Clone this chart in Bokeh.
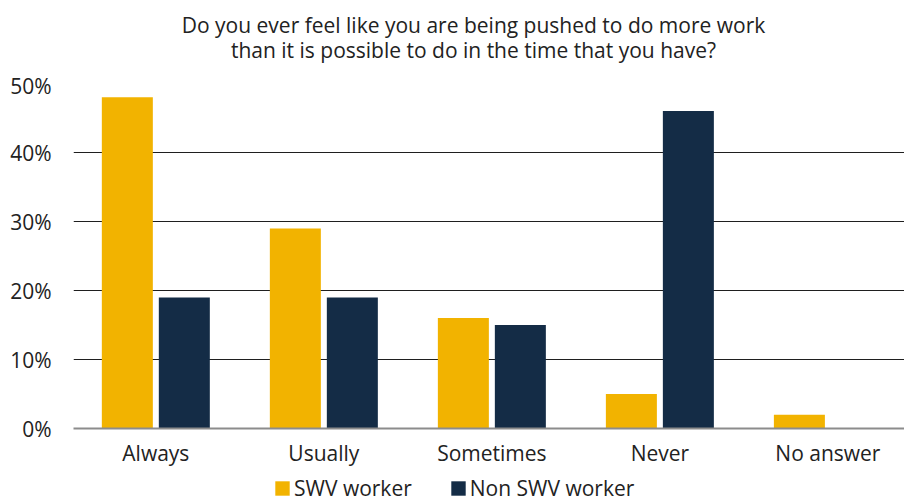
import numpy as np
from bokeh.plotting import figure
from bokeh.layouts import column
from bokeh.core.properties import value
from bokeh.models import (Range1d, FixedTicker, PrintfTickFormatter, Legend,
                          LegendItem, ColumnDataSource)
from bokeh.embed import file_html
from bokeh.resources import INLINE

categories = ["Always", "Usually", "Sometimes", "Never", "No answer"]
swv = [48, 29, 16, 5, 2]
non_swv = [19, 19, 15, 46, 0]
series_names = ["SWV worker", "Non SWV worker"]
colors = ["#F2B300", "#142C46"]
y_ticks = [0, 10, 20, 30, 40, 50]
title_lines = ["Do you ever feel like you are being pushed to do more work",
               "than it is possible to do in the time that you have?"]

FONT = "Open Sans"
TXT = "#222222"
W = 904
LEFT = 73

# ---- title strip (pixel coordinates, y downward) ----
TH = 71
t = figure(width=W, height=TH, output_backend="svg", toolbar_location=None,
           x_range=Range1d(LEFT, W), y_range=Range1d(TH, 0), min_border=0,
           min_border_left=LEFT, x_axis_location=None, y_axis_location=None)
t.grid.visible = False
t.outline_line_color = None
t.text(x=[473, 473], y=[24.5, 49.5], text=title_lines, text_align="center",
       text_baseline="alphabetic", text_font=value(FONT),
       text_font_size="21px", text_color=TXT)

# ---- main chart ----
idx = np.arange(len(categories)) + 0.5
bar_w = 0.3036
off = 0.1696

src = ColumnDataSource(dict(
    x_swv=idx - off, x_non=idx + off, swv=swv, non=non_swv, cat=categories))

p = figure(width=W, height=401, output_backend="svg", toolbar_location=None,
           x_range=Range1d(0.01, 4.956), y_range=Range1d(0, 50),
           min_border_left=LEFT, min_border_right=0, min_border_top=12,
           min_border_bottom=44)

r1 = p.vbar(x="x_swv", top="swv", width=bar_w, bottom=0, source=src,
            fill_color=colors[0], line_color=None)
r2 = p.vbar(x="x_non", top="non", width=bar_w, bottom=0, source=src,
            fill_color=colors[1], line_color=None)

p.outline_line_color = None
p.xgrid.grid_line_color = None
p.ygrid.grid_line_color = "#1f1f1f"
p.ygrid.grid_line_width = 1
p.ygrid.ticker = FixedTicker(ticks=y_ticks)

p.yaxis.ticker = FixedTicker(ticks=y_ticks)
p.yaxis.formatter = PrintfTickFormatter(format="%d%%")
p.yaxis.axis_line_color = None
p.yaxis.major_tick_line_color = None
p.yaxis.minor_tick_line_color = None
p.yaxis.major_label_standoff = 16
p.yaxis.major_label_text_font = FONT
p.yaxis.major_label_text_font_size = "21px"
p.yaxis.major_label_text_color = TXT

p.xaxis.ticker = FixedTicker(ticks=list(idx))
p.xaxis.major_label_overrides = {float(v): c for v, c in zip(idx, categories)}
p.xaxis.axis_line_color = "#8c8c8c"
p.xaxis.axis_line_width = 2
p.xaxis.major_tick_line_color = None
p.xaxis.minor_tick_line_color = None
p.xaxis.major_label_standoff = 4
p.xaxis.major_label_text_font = FONT
p.xaxis.major_label_text_font_size = "21px"
p.xaxis.major_label_text_color = TXT

# ---- legend strip ----
q = figure(width=W, height=30, output_backend="svg", toolbar_location=None,
           x_range=Range1d(0, 1), y_range=Range1d(0, 1), min_border=0,
           min_border_left=LEFT, x_axis_location=None, y_axis_location=None)
q.grid.visible = False
q.outline_line_color = None
l1 = q.vbar(x=[0], top=[0], bottom=0, width=0.001, fill_color=colors[0],
            line_color=None)
l2 = q.vbar(x=[0], top=[0], bottom=0, width=0.001, fill_color=colors[1],
            line_color=None)

legend = Legend(items=[LegendItem(label=series_names[0], renderers=[l1]),
                       LegendItem(label=series_names[1], renderers=[l2])],
                orientation="horizontal", location=(273 - LEFT, 0),
                padding=0, margin=0, spacing=37,
                glyph_width=18, glyph_height=18, label_standoff=3,
                label_text_font=FONT, label_text_font_size="21px",
                label_text_color=TXT, border_line_color=None,
                background_fill_alpha=0)
q.add_layout(legend, "center")

open("out.html", "w").write(file_html(column(t, p, q, spacing=0), INLINE))
